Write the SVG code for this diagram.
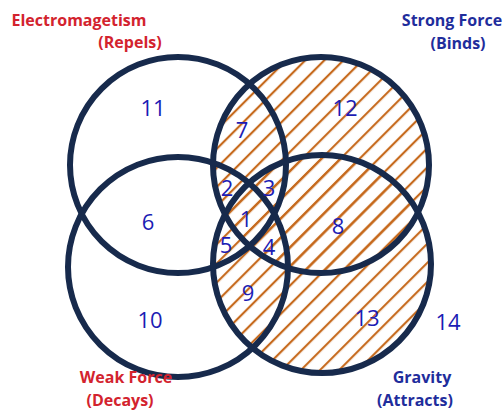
<svg xmlns="http://www.w3.org/2000/svg" width="504" height="410" viewBox="0 0 504 410">
<style>
.ring{fill:none;stroke:#172a4c;stroke-width:6}
.hatch{stroke:none}
.num{font-family:"Open Sans","Liberation Sans",sans-serif;font-size:22px;fill:#1c1cb4;text-anchor:middle}
.lab{font-family:"Open Sans","Liberation Sans",sans-serif;font-size:16px;font-weight:bold;text-anchor:middle}
.red{fill:#d3232e}
.blue{fill:#1f2d9c}
</style>
<defs>
<pattern id="h" patternUnits="userSpaceOnUse" width="13.5" height="13.5" patternTransform="rotate(45)">
<line x1="2" y1="0" x2="2" y2="13.5" stroke="#c66a1e" stroke-width="2.2"/>
</pattern>
</defs>
<rect width="504" height="410" fill="#ffffff"/>
<g id="hatching">
<circle class="hatch" cx="321" cy="165" r="108" fill="url(#h)"/>
<circle class="hatch" cx="322" cy="264" r="109" fill="url(#h)"/>
</g>
<g id="electromagnetism">
<circle class="ring" cx="178" cy="165" r="108"/>
<text class="lab red" x="79" y="26">Electromagetism</text>
<text class="lab red" x="130" y="48">(Repels)</text>
</g>
<g id="strong-force">
<circle class="ring" cx="321" cy="165" r="108"/>
<text class="lab blue" x="452" y="26">Strong Force</text>
<text class="lab blue" x="458" y="49">(Binds)</text>
</g>
<g id="weak-force">
<circle class="ring" cx="178" cy="267" r="110"/>
<text class="lab red" x="126" y="383">Weak Force</text>
<text class="lab red" x="120" y="406">(Decays)</text>
</g>
<g id="gravity">
<circle class="ring" cx="322" cy="264" r="109"/>
<text class="lab blue" x="422" y="383">Gravity</text>
<text class="lab blue" x="415" y="406">(Attracts)</text>
</g>
<g id="regions">
<text class="num" x="153" y="116">11</text>
<text class="num" x="242" y="138">7</text>
<text class="num" x="345" y="116">12</text>
<text class="num" x="227" y="196">2</text>
<text class="num" x="269" y="196">3</text>
<text class="num" x="148" y="230">6</text>
<text class="num" x="246" y="227">1</text>
<text class="num" x="338" y="234">8</text>
<text class="num" x="226" y="253">5</text>
<text class="num" x="269" y="255">4</text>
<text class="num" x="248" y="301">9</text>
<text class="num" x="150" y="328">10</text>
<text class="num" x="367" y="326">13</text>
<text class="num" x="448" y="330">14</text>
</g>
</svg>
